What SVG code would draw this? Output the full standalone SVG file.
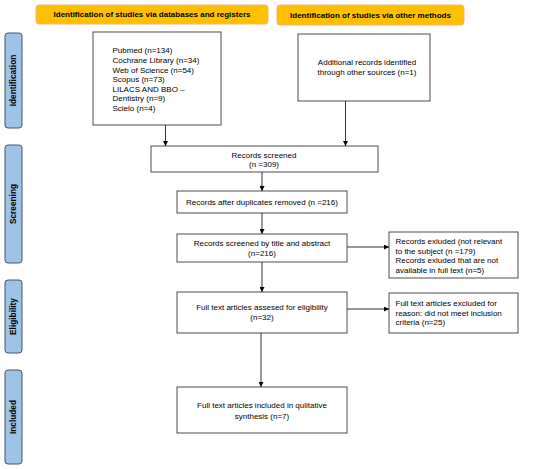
<svg xmlns="http://www.w3.org/2000/svg" width="550" height="469" viewBox="0 0 550 469">
<defs>
<marker id="ah" viewBox="0 0 10 10" refX="10" refY="5" markerWidth="5" markerHeight="5" orient="auto" markerUnits="userSpaceOnUse">
<path d="M0,0 L10,5 L0,10 z" fill="#000"/>
</marker>
</defs>
<style>
.hdr{fill:#FFC000;stroke:#F4B183;stroke-width:1}
.side{fill:#9DC3E6;stroke:#44546A;stroke-width:1}
.box{fill:#fff;stroke:#4d4d4d;stroke-width:1}
text{font-family:"Liberation Sans",Arial,sans-serif;font-size:8px;fill:#000}
.b{font-weight:bold;font-size:8px}
.s{font-weight:bold;font-size:8.3px}
.c{text-anchor:middle}
.conn{stroke:#333;stroke-width:1;fill:none;marker-end:url(#ah)}
</style>
<rect width="550" height="469" fill="#fff"/>
<g id="hdr1"><rect class="hdr" x="36" y="5" width="232" height="19" rx="3"/><text class="b c" x="152" y="17.3">Identification of studies via databases and registers</text></g>
<g id="hdr2"><rect class="hdr" x="277" y="5" width="187" height="20" rx="3"/><text class="b c" x="370.5" y="17.8">Identification of studies via other methods</text></g>
<g id="side-identification"><rect class="side" x="5" y="33" width="17" height="95" rx="3"/><text class="s c" transform="translate(16.3,80.5) rotate(-90)">Identification</text></g>
<g id="side-screening"><rect class="side" x="5" y="145" width="17" height="118" rx="3"/><text class="s c" transform="translate(16.3,204) rotate(-90)">Screening</text></g>
<g id="side-eligibility"><rect class="side" x="5" y="280" width="17" height="73" rx="3"/><text class="s c" transform="translate(16.3,316.5) rotate(-90)">Eligibility</text></g>
<g id="side-included"><rect class="side" x="5" y="370" width="17" height="94" rx="3"/><text class="s c" transform="translate(16.3,417) rotate(-90)">Included</text></g>
<g id="databases"><rect class="box" x="93" y="32" width="128" height="93"/>
<text x="112.5" y="53.3">Pubmed (n=134)</text>
<text x="112.5" y="62.9">Cochrane Library (n=34)</text>
<text x="112.5" y="72.5">Web of Science (n=54)</text>
<text x="112.5" y="82.1">Scopus (n=73)</text>
<text x="112.5" y="91.7">LILACS AND BBO –</text>
<text x="112.5" y="101.3">Dentistry (n=9)</text>
<text x="112.5" y="110.9">Scielo (n=4)</text>
</g>
<g id="other"><rect class="box" x="298" y="34" width="132" height="67"/>
<text class="c" x="367" y="65">Additional records identified</text>
<text class="c" x="367" y="74.8">through other sources (n=1)</text>
</g>
<g id="screened"><rect class="box" x="151" y="146" width="227" height="26"/>
<text class="c" x="264" y="158">Records screened</text>
<text class="c" x="264" y="167.3">(n =309)</text>
</g>
<g id="dedup"><rect class="box" x="177" y="191" width="170" height="22"/>
<text class="c" x="262" y="205">Records after duplicates removed (n =216)</text>
</g>
<g id="title-abstract"><rect class="box" x="177" y="234" width="170" height="28"/>
<text class="c" x="262" y="246">Records screened by title and abstract</text>
<text class="c" x="262" y="255.8">(n=216)</text>
</g>
<g id="excluded1"><rect class="box" x="389" y="232" width="129" height="46"/>
<text x="395.5" y="244">Records exluded (not relevant</text>
<text x="395.5" y="253.7">to the subject (n =179)</text>
<text x="395.5" y="263.4">Records exluded that are not</text>
<text x="395.5" y="273.1">available in full text (n=5)</text>
</g>
<g id="fulltext"><rect class="box" x="177" y="292" width="170" height="41"/>
<text class="c" x="262" y="310">Full text articles assesed for eligibility</text>
<text class="c" x="262" y="319.8">(n=32)</text>
</g>
<g id="excluded2"><rect class="box" x="389" y="293" width="129" height="40"/>
<text x="395.5" y="306">Full text articles excluded for</text>
<text x="395.5" y="315.7">reason: did not meet inclusion</text>
<text x="395.5" y="325.4">criteria (n=25)</text>
</g>
<g id="included"><rect class="box" x="177" y="387" width="170" height="46"/>
<text class="c" x="262" y="408">Full text articles included in qulitative</text>
<text class="c" x="262" y="419">synthesis (n=7)</text>
</g>
<g id="connectors">
<line class="conn" x1="165.5" y1="125" x2="165.5" y2="146"/>
<line class="conn" x1="345.5" y1="101" x2="345.5" y2="146"/>
<line class="conn" x1="262" y1="172" x2="262" y2="191"/>
<line class="conn" x1="262" y1="213" x2="262" y2="234"/>
<line class="conn" x1="262" y1="262" x2="262" y2="292"/>
<line class="conn" x1="347" y1="247" x2="389" y2="247"/>
<line class="conn" x1="347" y1="309" x2="389" y2="309"/>
<line class="conn" x1="261" y1="333" x2="261" y2="387"/>
</g>
</svg>
